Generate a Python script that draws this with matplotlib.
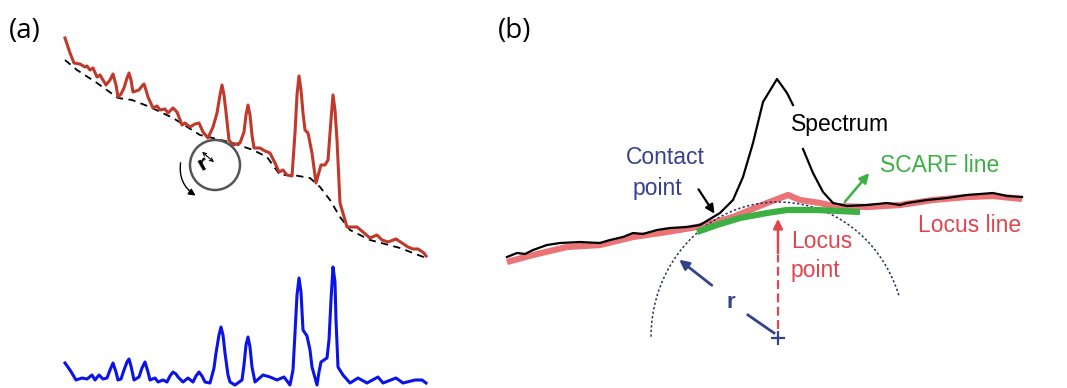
import matplotlib.pyplot as plt
import numpy as np

# ---- panel (a): raw spectrum (red), baseline (dashed), corrected (blue) ----
raw_x = [65, 70, 74, 80, 85, 87, 90, 93, 97, 100, 106, 110, 113, 116, 118, 121, 124, 127,
         129, 131, 133, 139, 142, 144, 146, 148, 153, 157, 160, 165, 168, 173, 177, 182,
         185, 190, 195, 199, 203, 208, 213, 217, 220, 222, 224, 226, 229, 233, 240, 244,
         246, 248, 250, 252, 254, 260, 265, 270, 275, 279, 283, 287, 292, 295, 297, 299,
         301, 303, 305, 308, 312, 316, 321, 325, 328, 331, 333, 335, 337, 340, 347, 352,
         357, 363, 370, 377, 382, 388, 396, 402, 408, 413, 418, 424, 426]
raw_y = [38, 53, 63, 64, 67, 66, 70, 68, 77, 75, 85, 80, 74, 85, 97, 94, 88, 78,
         73, 80, 92, 90, 86, 84, 90, 97, 108, 106, 110, 109, 113, 108, 112, 125,
         123, 127, 124, 123, 132, 138, 127, 113, 95, 85, 95, 112, 140, 145, 143, 132,
         115, 105, 115, 135, 148, 148, 151, 153, 163, 172, 170, 175, 176, 133, 95, 76,
         90, 113, 130, 133, 153, 183, 165, 165, 160, 120, 95, 110, 140, 203, 227, 227,
         227, 232, 238, 235, 240, 242, 239, 243, 247, 249, 249, 253, 256]

base_x = [65, 77, 97, 118, 132, 150, 173, 200, 217, 233, 253, 267, 280, 293, 310, 320,
          330, 340, 350, 370, 400, 426]
base_y = [60, 70, 83, 98, 100, 107, 118, 135, 139, 143, 150, 157, 175, 175, 178, 187,
          200, 217, 230, 240, 248, 258]

corr_x = [65, 70, 76, 82, 87, 92, 95, 99, 103, 107,
          110, 113, 116, 118, 121, 124, 127, 129, 131, 134,
          139, 142, 145, 148, 150, 155, 158, 163, 167, 170,
          173, 176, 178, 183, 188, 193, 196, 199, 202, 205,
          210, 214, 216, 219, 221, 223, 225, 228, 230, 235,
          242, 244, 246, 248, 250, 252, 255, 263, 270, 277,
          284, 290, 293, 295, 297, 299, 301, 303, 307, 310,
          312, 317, 319, 321, 327, 329, 331, 333, 335, 336,
          338, 343, 350, 358, 367, 378, 383, 396, 403, 415,
          422, 426]
corr_y = [363, 370, 380, 378, 379, 375, 380, 375, 379, 378,
          370, 363, 372, 380, 379, 370, 362, 359, 366, 380,
          377, 368, 362, 372, 380, 378, 382, 380, 382, 376,
          372, 374, 377, 382, 378, 382, 376, 372, 376, 382,
          383, 368, 353, 335, 327, 335, 353, 375, 382, 385,
          380, 365, 345, 337, 347, 367, 382, 375, 377, 380,
          377, 385, 370, 333, 295, 278, 292, 330, 336, 350,
          367, 385, 372, 362, 358, 340, 300, 267, 282, 320,
          367, 375, 383, 378, 383, 377, 383, 378, 383, 380,
          380, 383]

# rolling circle in (a)
circ_a = (215, 165, 25)

# ---- panel (b): SCARF schematic ----
spec_x1 = [507, 517, 525, 533, 547, 560, 580, 600, 610, 623, 633, 643, 657, 670, 687,
           700, 710, 720, 733, 743, 753, 763, 777, 787, 793]
spec_y1 = [257, 253, 254, 250, 245, 243, 242, 243, 240, 237, 233, 234, 230, 228, 227,
           225, 219, 213, 200, 177, 143, 102, 79, 93, 105]
spec_x2 = [803, 813, 823, 833, 847, 867, 887, 900, 907, 927, 947, 967, 993, 1007, 1022]
spec_y2 = [149, 173, 192, 203, 206, 205, 203, 205, 203, 200, 198, 195, 193, 196, 197]

locus_x = [507, 533, 567, 600, 633, 667, 697, 733, 767, 788, 800, 820, 833, 867, 900,
           933, 967, 993, 1022]
locus_y = [262, 255, 247, 245, 237, 232, 227, 217, 203, 195, 200, 203, 206, 207, 205,
           200, 197, 196, 199]

scarf_x = [697, 717, 740, 767, 787, 817, 860]
scarf_y = [232, 225, 218, 213, 210, 210, 212]

# circle of radius r rolled under the spectrum (centre, half axes, arc span in degrees)
arc_c = (778, 337)
arc_r = (127, 135)
arc_span = (18, 180)

red_a = '#c0392b'
blue_a = '#0a14e6'
navy = '#34428a'
red_b = '#e0454f'
locus_col = '#ea7476'
green = '#3cb043'

fig = plt.figure(figsize=(10.67, 3.88), dpi=100)
ax = fig.add_axes([0, 0, 1, 1])
ax.set_xlim(0, 1067)
ax.set_ylim(388, 0)
ax.axis('off')

# (a)
ax.plot(base_x, base_y, color='black', lw=1.3, ls=(0, (4, 3)), zorder=2)
ax.plot(raw_x, raw_y, color=red_a, lw=2.2, solid_joinstyle='round', zorder=3)
ax.plot(corr_x, corr_y, color=blue_a, lw=2.2, solid_joinstyle='round', zorder=3)

cx, cy, cr = circ_a
ax.add_patch(plt.Circle((cx, cy), cr, fill=False, ec='#555555', lw=1.8, zorder=4))
ax.annotate('', xy=(cx - 15, cy - 15), xytext=(cx + 1, cy - 1),
            arrowprops=dict(arrowstyle='<->', color='black', lw=0.8,
                            mutation_scale=6))
ax.text(cx - 12, cy - 1, 'r', fontsize=14, fontweight='bold', rotation=30,
        ha='center', va='center', family='DejaVu Sans')
ax.annotate('', xy=(198, 197), xytext=(181, 160),
            arrowprops=dict(arrowstyle='-|>', color='black', lw=1,
                            connectionstyle='arc3,rad=0.35', mutation_scale=10))

# (b)
ax.plot(locus_x, locus_y, color=locus_col, lw=4.5, solid_capstyle='butt', zorder=2)
ax.plot(spec_x1, spec_y1, color='black', lw=1.6, zorder=3)
ax.plot(spec_x2, spec_y2, color='black', lw=1.6, zorder=3)

t = np.radians(np.linspace(arc_span[0], arc_span[1], 200))
ax.plot(arc_c[0] + arc_r[0] * np.cos(t), arc_c[1] - arc_r[1] * np.sin(t),
        color='#2a3060', lw=1.1, ls=(0, (1.5, 1.5)), zorder=2)
ax.plot(scarf_x, scarf_y, color=green, lw=4.5, solid_capstyle='butt', zorder=4)

# locus point arrow (solid head part, dashed tail)
ax.plot([arc_c[0], arc_c[0]], [arc_c[1] - 8, 255], color=red_b, lw=1.6,
        ls=(0, (4, 2)), zorder=3)
ax.annotate('', xy=(arc_c[0], 216), xytext=(arc_c[0], 256),
            arrowprops=dict(arrowstyle='-|>', color=red_b, lw=1.8, mutation_scale=14))

# centre mark and radius arrow
ax.plot(arc_c[0], arc_c[1] + 1, marker='+', color=navy, ms=10, mew=1.6, zorder=4)
ax.annotate('', xy=(677, 258), xytext=(714, 287),
            arrowprops=dict(arrowstyle='-|>', color=navy, lw=2, mutation_scale=14))
ax.plot([748, 774], [315, 333], color=navy, lw=2)
ax.text(731, 303, 'r', fontsize=16, fontweight='bold', color=navy,
        ha='center', va='center', family='Liberation Sans')

# contact point and scarf arrows
ax.annotate('', xy=(716, 216), xytext=(697, 187),
            arrowprops=dict(arrowstyle='-|>', color='black', lw=1.6, mutation_scale=13))
ax.annotate('', xy=(871, 171), xytext=(843, 204),
            arrowprops=dict(arrowstyle='-|>', color=green, lw=1.8, mutation_scale=14))

fs = 16.5
lab = dict(fontsize=fs, family='Liberation Sans', va='center', ha='left')
ax.text(791, 125, 'Spectrum', color='black', **lab)
ax.text(626, 157, 'Contact', color=navy, **lab)
ax.text(633, 188, 'point', color=navy, **lab)
ax.text(880, 166, 'SCARF line', color=green, **lab)
ax.text(918, 225, 'Locus line', color=red_b, **lab)
ax.text(791, 241, 'Locus', color=red_b, **lab)
ax.text(791, 271, 'point', color=red_b, **lab)

ax.text(9, 31, '(a)', fontsize=20, family='Open Sans', va='center', ha='left')
ax.text(498, 31, '(b)', fontsize=20, family='Open Sans', va='center', ha='left')

fig.savefig('out.png', dpi=100)
